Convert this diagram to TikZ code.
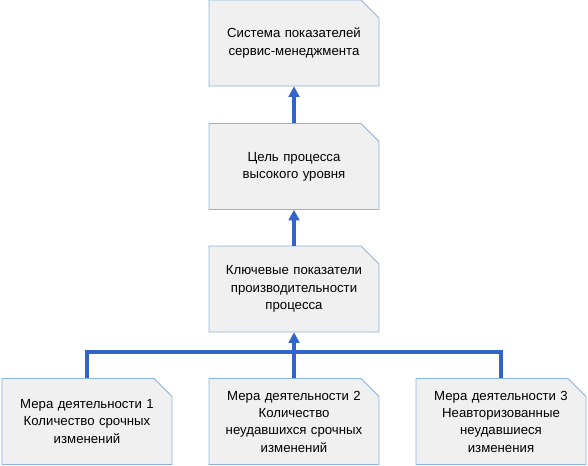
\documentclass[tikz,border=0pt]{standalone}
\usepackage{fontspec}
\setmainfont{Liberation Sans}
\usetikzlibrary{arrows.meta}
\definecolor{boxfill}{RGB}{240,240,240}
\definecolor{boxline}{RGB}{140,180,225}
\definecolor{link}{RGB}{50,100,205}
\tikzset{
	box/.style={rectangle, minimum width=127.5pt, minimum height=64.5pt, inner sep=0pt,
		text width=120pt, align=center, font=\fontsize{9.9}{13}\selectfont},
	boxedge/.style={draw=boxline, fill=boxfill, line width=0.6pt},
	link/.style={draw=link, line width=2.4pt},
	up/.style={link, -{Triangle[length=8pt,width=8pt]}}
}
\begin{document}
\begin{tikzpicture}[x=0.75pt,y=-0.75pt]
	\useasboundingbox (0,0) rectangle (588,465);
	% box outlines first, text nodes on top
	\foreach \x/\y/\n in {294/43/sys, 294/166.5/goal, 294/289/kpi, 87/421.5/m1, 294/421.5/m2, 501/421.5/m3}
		\path[boxedge] (\x-85,\y-43) -- (\x+67,\y-43) -- (\x+85,\y-25) -- (\x+85,\y+43) -- (\x-85,\y+43) -- cycle;
	\node[box] (sys) at (294,43) {Система показателей\\сервис-менеджмента};
	\node[box] (goal) at (294,166.5) {Цель процесса\\высокого уровня};
	\node[box] (kpi) at (294,289) {Ключевые показатели\\производительности\\процесса};
	\node[box] (m1) at (87,421.5) {Мера деятельности 1\\Количество срочных\\изменений};
	\node[box] (m2) at (294,421.5) {Мера деятельности 2\\Количество\\неудавшихся срочных\\изменений};
	\node[box] (m3) at (501,421.5) {Мера деятельности 3\\Неавторизованные\\неудавшиеся\\изменения};
	\coordinate (busl) at (87,352);
	\coordinate (busr) at (501,352);
	\draw[up] (goal.north) -- (sys.south);
	\draw[up] (kpi.north) -- (goal.south);
	\draw[up] (m2.north) -- (kpi.south);
	\draw[link] (m1.north) -- (busl) -- (busr) -- (m3.north);
\end{tikzpicture}
\end{document}
